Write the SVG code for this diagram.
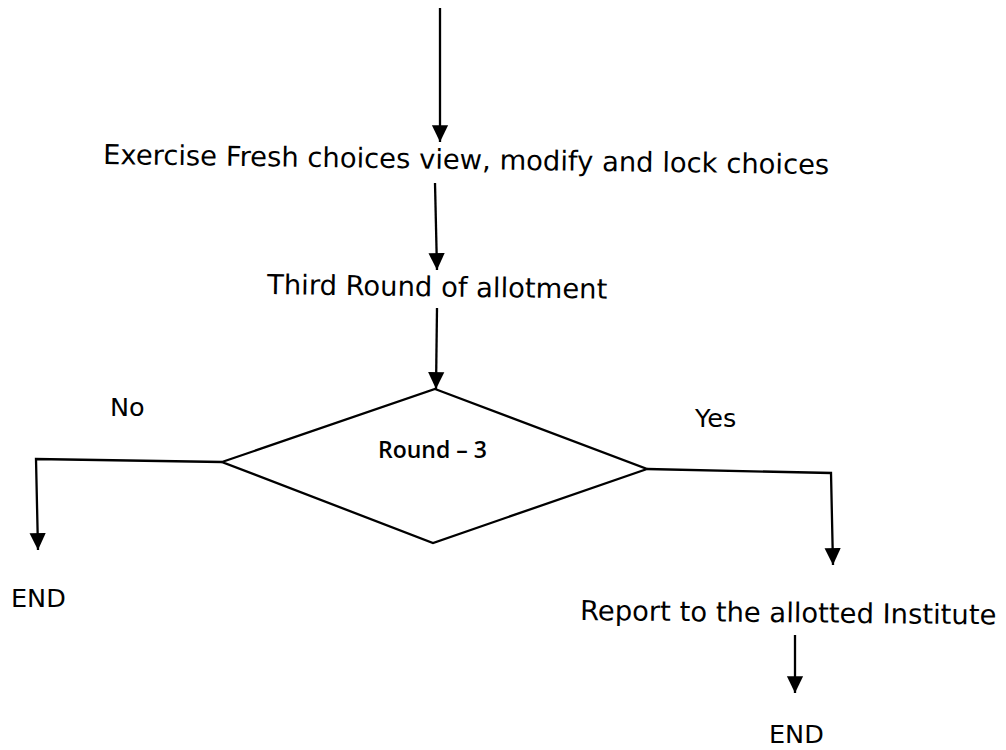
<svg xmlns="http://www.w3.org/2000/svg" width="1006" height="750" viewBox="0 0 1006 750">
  <style>
    .t { font-family: "DejaVu Sans", Verdana, sans-serif; font-size: 27.4px; fill: #000; }
    .lbl { font-family: "DejaVu Sans", Verdana, sans-serif; font-size: 25.5px; fill: #000; }
    .dec { font-family: "Open Sans", "Liberation Sans", sans-serif; font-size: 23px; font-weight: 600; fill: #000; }
    .ln { fill: none; stroke: #000; stroke-width: 2.3; stroke-linejoin: miter; }
    .shape { fill: none; stroke: #000; stroke-width: 2.3; stroke-linejoin: miter; }
  </style>
  <defs>
    <marker id="arr" markerUnits="userSpaceOnUse" markerWidth="18" markerHeight="18" viewBox="0 0 16 16" refX="15" refY="8" orient="auto">
      <path d="M0,0.8 L15,8 L0,15.2 Z" fill="#000"/>
    </marker>
  </defs>
  <rect width="1006" height="750" fill="#fff"/>

  <g id="connectors">
    <path class="ln" d="M440,8 L440,142" marker-end="url(#arr)"/>
    <path class="ln" d="M435,183 L437,270" marker-end="url(#arr)"/>
    <path class="ln" d="M437,308 L436,389" marker-end="url(#arr)"/>
    <path class="ln" d="M222,462 L36,459 L38,550" marker-end="url(#arr)"/>
    <path class="ln" d="M647,469 L831,473 L833,565" marker-end="url(#arr)"/>
    <path class="ln" d="M795,635 L795,693" marker-end="url(#arr)"/>
  </g>

  <g id="node-fresh-choices">
    <text class="t" x="103" y="164" transform="rotate(0.8 103 164)">Exercise Fresh choices view, modify and lock choices</text>
  </g>

  <g id="node-third-round">
    <text class="t" x="267" y="294" transform="rotate(0.8 267 294)">Third Round of allotment</text>
  </g>

  <g id="node-round3">
    <polygon class="shape" points="435,389 647,469 433,543 222,462"/>
    <text class="dec" x="378" y="458">Round – 3</text>
  </g>

  <g id="label-no">
    <text class="lbl" x="110" y="416">No</text>
  </g>

  <g id="label-yes">
    <text class="lbl" x="695" y="427">Yes</text>
  </g>

  <g id="node-end-left">
    <text class="lbl" x="11" y="607">END</text>
  </g>

  <g id="node-report">
    <text class="t" x="580" y="620" transform="rotate(0.6 580 620)">Report to the allotted Institute</text>
  </g>

  <g id="node-end-right">
    <text class="lbl" x="769" y="743">END</text>
  </g>
</svg>
